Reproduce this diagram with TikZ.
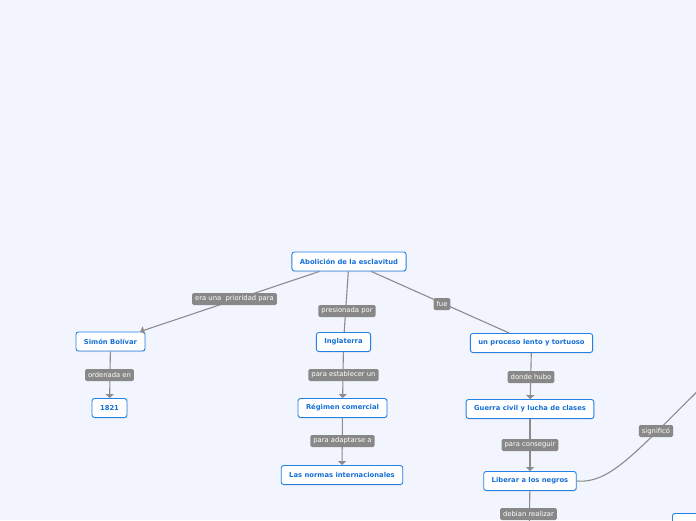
\documentclass[tikz,border=0pt]{standalone}
\usepackage{fontspec}
\setmainfont{DejaVu Sans}
\usetikzlibrary{arrows.meta}
\usetikzlibrary{shadows}

\definecolor{bgblue}{RGB}{242,245,254}
\definecolor{topicblue}{RGB}{35,130,232}
\definecolor{textblue}{RGB}{22,112,214}
\definecolor{linkgray}{RGB}{140,140,140}
\definecolor{labelgray}{RGB}{136,136,136}

\tikzset{
    topic/.style={draw=topicblue, fill=white, rounded corners=2.5pt, line width=0.9pt,
        text=textblue, font=\fontsize{6.8}{8}\selectfont\bfseries,
        minimum height=19pt, inner xsep=8pt, inner ysep=0pt,
        drop shadow={shadow xshift=0.4pt, shadow yshift=-1pt, opacity=0.2}},
    lbl/.style={fill=labelgray, text=white, rounded corners=1.5pt,
        font=\fontsize{6.8}{8}\selectfont, minimum height=12pt, inner xsep=3pt, inner ysep=0pt},
    link/.style={draw=linkgray, line width=1.1pt},
    arr/.style={link, -{Triangle[length=4pt,width=8pt]}}
}

\begin{document}
\begin{tikzpicture}[x=1pt,y=-1pt]
    \useasboundingbox (0,0) rectangle (696,520);
    \fill[bgblue] (0,0) rectangle (696,520);
    \clip (0,0) rectangle (696,520);

    \node[topic] (abol) at (349,261.5) {Abolición de la esclavitud};
    \node[topic] (simon) at (110.5,341.5) {Simón Bolívar};
    \node[topic] (anio) at (109.5,408) {1821};
    \node[topic] (ingl) at (343.5,342) {Inglaterra};
    \node[topic] (regimen) at (342.5,408) {Régimen comercial};
    \node[topic] (normas) at (342,475) {Las normas internacionales};
    \node[topic] (proceso) at (531.5,343) {un proceso lento y tortuoso};
    \node[topic] (guerra) at (530,409) {Guerra civil y lucha de clases};
    \node[topic] (liberar) at (530,481) {Liberar a los negros};
    \node[topic, anchor=north west, minimum width=60pt] (fuera) at (672,513) {};

    \coordinate (arriba) at (740,350);
    \coordinate (abajo) at (529,540);

    \draw[arr] (abol) -- (simon);
    \draw[link] (abol) -- (ingl);
    \draw[link] (abol) -- (proceso);
    \draw[arr] (simon) -- (anio);
    \draw[arr] (ingl) -- (regimen);
    \draw[arr] (regimen) -- (normas);
    \draw[arr] (proceso) -- (guerra);
    \draw[arr] (guerra) -- (liberar);
    \draw[link] (liberar) -- (abajo);
    \draw[link] (liberar.east) .. controls (615,484) and (640,445) .. (arriba);

    \node[lbl] (l1) at (234.5,299) {era una\ \ prioridad para};
    \node[lbl] (l2) at (347,311) {presionada por};
    \node[lbl] (l3) at (442,304) {fue};
    \node[lbl] (l4) at (109.5,375) {ordenada en\ };
    \node[lbl] (l5) at (343.5,375) {para establecer un};
    \node[lbl] (l6) at (342.5,441) {para adaptarse a\ };
    \node[lbl] (l7) at (531,377) {donde hubo};
    \node[lbl] (l8) at (530,445) {para conseguir};
    \node[lbl] (l9) at (656,431) {significó};
    \node[lbl] (l10) at (528.5,514) {debian realizar};
\end{tikzpicture}
\end{document}
